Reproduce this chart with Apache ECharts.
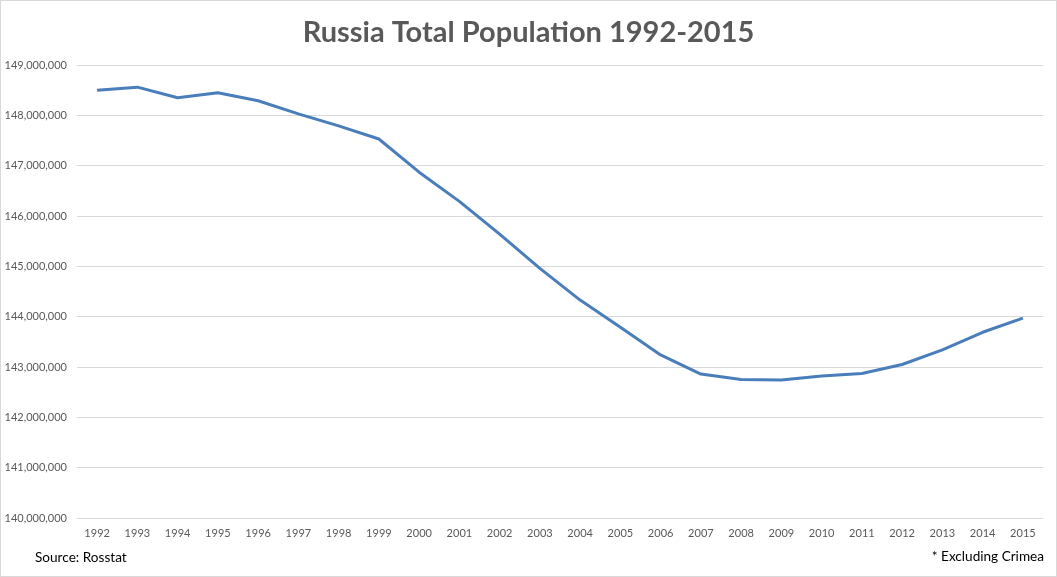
<!DOCTYPE html>
<html>
<head>
<meta charset="utf-8">
<script src="https://cdn.jsdelivr.net/npm/echarts@6/dist/echarts.min.js"></script>
<style>
  html, body { margin: 0; padding: 0; background: #fff; }
  #chart { width: 1057px; height: 577px; box-sizing: border-box; border: 1px solid #d9d9d9; }
</style>
</head>
<body>
<div id="chart"></div>
<script>
var years = ['1992', '1993', '1994', '1995', '1996', '1997', '1998', '1999', '2000', '2001',
  '2002', '2003', '2004', '2005', '2006', '2007', '2008', '2009', '2010', '2011',
  '2012', '2013', '2014', '2015'];
var population = [148500000, 148560000, 148350000, 148450000, 148290000, 148030000, 147790000, 147530000,
  146870000, 146290000, 145640000, 144960000, 144330000, 143790000, 143240000, 142860000,
  142750000, 142740000, 142820000, 142870000, 143050000, 143340000, 143690000, 143970000];

var gray = '#595959';
var chart = echarts.init(document.getElementById('chart'));

var option = {
  animation: false,
  title: {
    text: 'Russia Total Population 1992-2015',
    left: 'center',
    top: 12,
    textStyle: {
      fontFamily: 'Lato',
      fontSize: 29,
      fontWeight: 'bold',
      color: gray
    }
  },
  grid: {
    left: 76,
    right: 13,
    top: 64,
    bottom: 58
  },
  xAxis: {
    type: 'category',
    data: years,
    boundaryGap: true,
    axisLine: { show: false },
    axisTick: { show: false },
    axisLabel: {
      color: gray,
      fontFamily: 'Lato',
      fontSize: 11,
      margin: 10
    }
  },
  yAxis: {
    type: 'value',
    min: 140000000,
    max: 149000000,
    interval: 1000000,
    axisLine: { show: false },
    axisTick: { show: false },
    axisLabel: {
      color: gray,
      fontFamily: 'Lato',
      fontSize: 11,
      margin: 10,
      formatter: function (v) {
        return v.toLocaleString('en-US');
      }
    },
    splitLine: {
      lineStyle: { color: '#d9d9d9', width: 1 }
    }
  },
  series: [{
    type: 'line',
    name: 'Population',
    data: population,
    symbol: 'none',
    smooth: false,
    lineStyle: { color: '#4a7ebb', width: 3 }
  }],
  graphic: [{
    type: 'text',
    left: 34,
    top: 550,
    style: {
      text: 'Source: Rosstat',
      fontFamily: 'Lato',
      fontSize: 13.6,
      fill: '#000'
    }
  }, {
    type: 'text',
    right: 12,
    top: 549,
    style: {
      text: '* Excluding Crimea',
      fontFamily: 'Lato',
      fontSize: 13.6,
      fill: '#000'
    }
  }]
};

chart.setOption(option);
</script>
</body>
</html>
